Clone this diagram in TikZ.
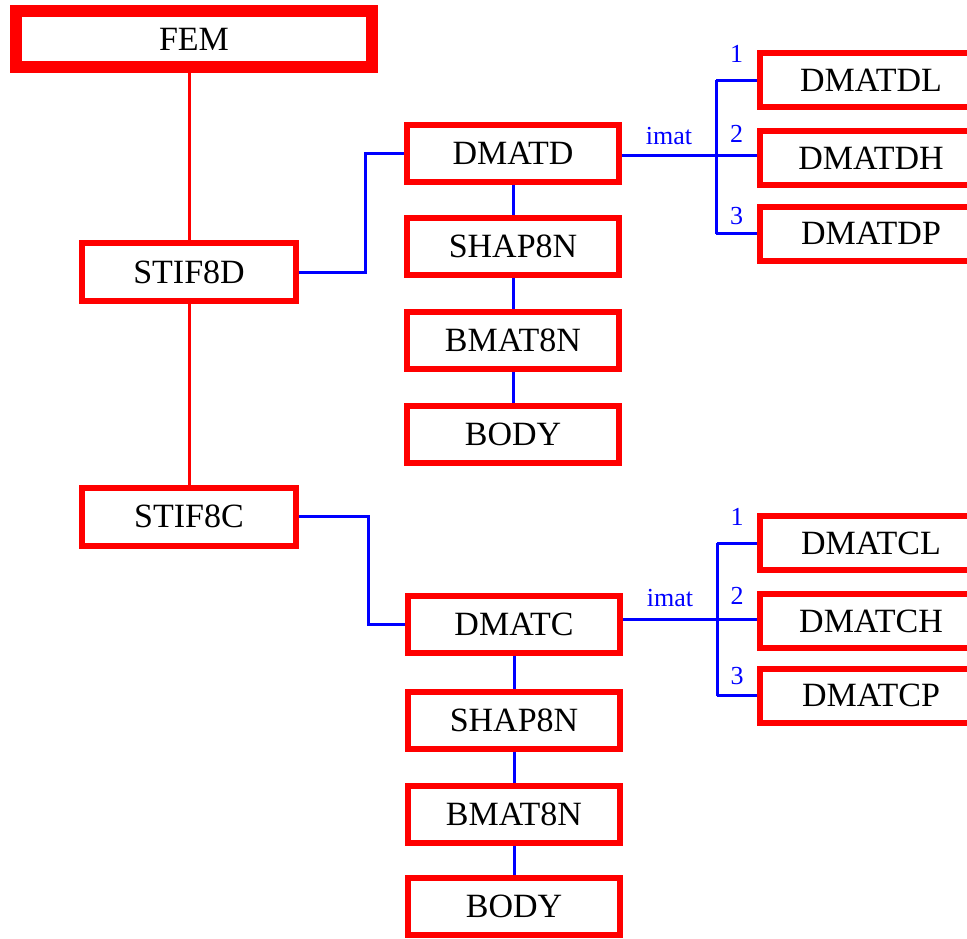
\documentclass[tikz,border=0pt]{standalone}
\usepackage{fontspec}
\setmainfont{Liberation Serif}
\begin{document}
\begin{tikzpicture}[x=1pt, y=-1pt, every node/.style={font=\fontsize{34}{40}\selectfont},
  routine/.style={draw=red, line width=6pt, minimum width=212pt, minimum height=57pt, inner sep=0pt},
  leaf/.style={routine, minimum width=222pt, minimum height=54pt},
  call/.style={draw=red, line width=3pt},
  branch/.style={draw=blue, line width=3pt},
  tag/.style={font=\fontsize{26}{30}\selectfont, text=blue, inner sep=1pt}]
\useasboundingbox (0,0) rectangle (967,938);
\node[routine, line width=12pt, minimum width=356pt, minimum height=56pt] (fem) at (194,39) {FEM};
\node[routine, minimum width=214pt, minimum height=58pt] (stif8d) at (189,272) {STIF8D};
\node[routine, minimum width=214pt, minimum height=58pt] (stif8c) at (189,516.5) {STIF8C};
% upper branch
\node[routine] (dmatd) at (513,153) {DMATD};
\node[routine] (shapd) at (513,246.5) {SHAP8N};
\node[routine] (bmatd) at (513,340.5) {BMAT8N};
\node[routine] (bodyd) at (513,434.5) {BODY};
\node[leaf] (dmatdl) at (871,80) {DMATDL};
\node[leaf] (dmatdh) at (871,158) {DMATDH};
\node[leaf] (dmatdp) at (871,233.5) {DMATDP};
\coordinate (busd) at (716,155);
% lower branch
\node[routine] (dmatc) at (514,624) {DMATC};
\node[routine] (shapc) at (514,720) {SHAP8N};
\node[routine] (bmatc) at (514,814.5) {BMAT8N};
\node[routine] (bodyc) at (514,906.5) {BODY};
\node[leaf] (dmatcl) at (871,543) {DMATCL};
\node[leaf] (dmatch) at (871,621) {DMATCH};
\node[leaf] (dmatcp) at (871,695.5) {DMATCP};
\coordinate (busc) at (717,619);
\draw[call] (stif8d.north |- fem.south) -- (stif8d.north);
\draw[call] (stif8d) -- (stif8c);
\draw[branch] (stif8d.east) -- ++(66,0) |- (dmatd.west);
\draw[branch] (stif8c.east) -- ++(69,0) |- (dmatc.west);
\draw[branch] (dmatd) -- (shapd);
\draw[branch] (shapd) -- (bmatd);
\draw[branch] (bmatd) -- (bodyd);
\draw[branch] (dmatc) -- (shapc);
\draw[branch] (shapc) -- (bmatc);
\draw[branch] (bmatc) -- (bodyc);
\draw[branch] (dmatd.east |- busd) -- node[tag, above=8pt] {imat} (busd) -- node[tag, above=10pt] {2} (dmatdh.west |- busd);
\draw[branch] (busd |- dmatdl) -- (busd |- dmatdp);
\draw[branch] (busd |- dmatdl) -- node[tag, above=15pt] {1} (dmatdl.west);
\draw[branch] (busd |- dmatdp) -- node[tag, above=6pt] {3} (dmatdp.west);
\draw[branch] (dmatc.east |- busc) -- node[tag, above=10pt] {imat} (busc) -- node[tag, above=12pt] {2} (dmatch.west |- busc);
\draw[branch] (busc |- dmatcl) -- (busc |- dmatcp);
\draw[branch] (busc |- dmatcl) -- node[tag, above=15pt] {1} (dmatcl.west);
\draw[branch] (busc |- dmatcp) -- node[tag, above=8pt] {3} (dmatcp.west);
\end{tikzpicture}
\end{document}
